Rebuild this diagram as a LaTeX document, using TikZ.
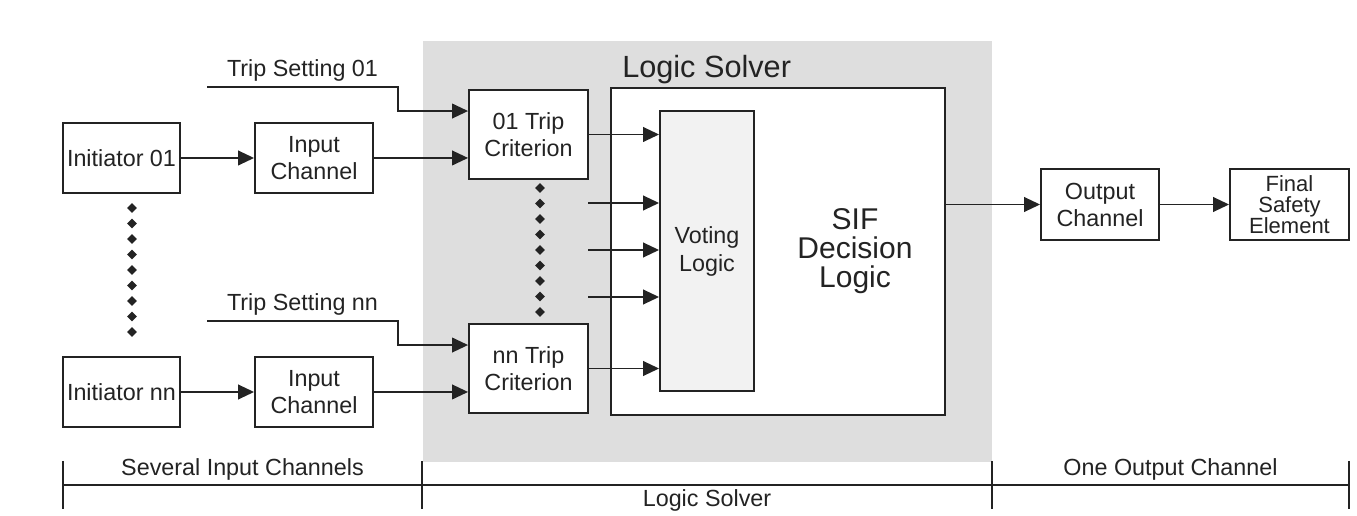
\documentclass[tikz,border=0pt]{standalone}
\usepackage{fontspec}
\setmainfont{Liberation Sans}
\usetikzlibrary{arrows.meta,shapes.geometric}
\definecolor{solvergray}{RGB}{222,222,222}
\definecolor{votegray}{RGB}{242,242,242}
\definecolor{inkgray}{RGB}{35,35,35}

\begin{document}
\begin{tikzpicture}[x=0.75pt, y=-0.75pt,
   every node/.style={text=inkgray, font=\fontsize{17.5}{20.25}\selectfont},
   blk/.style={draw=inkgray, line width=1.4pt, fill=white, align=center, inner sep=1pt},
   arr/.style={draw=inkgray, line width=1.4pt, -{Triangle[length=12pt,width=11pt]}},
   ln/.style={draw=inkgray, line width=1.4pt},
   dot/.style={diamond, fill=inkgray, inner sep=0pt, minimum size=7.5pt}]
   \useasboundingbox (0,0) rectangle (1357,516);

   % Logic solver area
   \fill[solvergray] (423,41) rectangle (992,462);
   \node[anchor=base west, inner sep=0pt, font=\fontsize{23}{27}\selectfont] (lstitle) at (622,78) {Logic Solver};
   \node[blk, minimum width=250.5pt, minimum height=245.25pt] (ls) at (778,251.5) {};
   \node[blk, fill=votegray, minimum width=70.5pt, minimum height=210pt, font=\fontsize{17.5}{21}\selectfont] (vote) at (707,251) {Voting\\Logic};
   \node[align=center, font=\fontsize{22.5}{22}\selectfont] (sif) at (855,251) {SIF\\Decision\\Logic};

   % Channel 01
   \node[blk, minimum width=87.75pt, minimum height=52.5pt] (ini1) at (121.5,158) {Initiator 01};
   \node[blk, minimum width=88.5pt, minimum height=52.5pt] (inp1) at (314,158) {Input\\Channel};
   \node[blk, minimum width=89.25pt, minimum height=66.75pt] (trip1) at (528.5,134.5) {01 Trip\\Criterion};
   \coordinate (ts1) at (207,87);
   \coordinate (tk1) at (398,87);
   \draw[arr] (ts1) -- node[above] (tslbl1) {Trip Setting 01} (tk1) |- ([yshift=17.6pt]trip1.west);
   \draw[arr] (ini1.east) -- (inp1.west);
   \draw[arr] (inp1.east) -- ([yshift=-17.6pt]trip1.west);

   % Channel nn
   \node[blk, minimum width=87.75pt, minimum height=52.5pt] (inin) at (121.5,392) {Initiator nn};
   \node[blk, minimum width=88.5pt, minimum height=52.5pt] (inpn) at (314,392) {Input\\Channel};
   \node[blk, minimum width=89.25pt, minimum height=66.75pt] (tripn) at (528.5,368.5) {nn Trip\\Criterion};
   \coordinate (tsn) at (207,321);
   \coordinate (tkn) at (398,321);
   \draw[arr] (tsn) -- node[above] (tslbln) {Trip Setting nn} (tkn) |- ([yshift=17.6pt]tripn.west);
   \draw[arr] (inin.east) -- (inpn.west);
   \draw[arr] (inpn.east) -- ([yshift=-17.6pt]tripn.west);

   % Dots between the channels
   \foreach \i in {0,...,8} {
      \node[dot] (da\i) at (132,208+15.5*\i) {};
      \node[dot] (db\i) at (540,188+15.5*\i) {};
   }

   % Inputs of the voting logic
   \draw[arr] (trip1.east) -- (trip1.east -| vote.west);
   \draw[arr] (tripn.east) -- (tripn.east -| vote.west);
   \foreach \y in {203,250,297} {
      \coordinate (v\y) at (588,\y);
      \draw[arr] (v\y) -- (v\y -| vote.west);
   }

   % Output side
   \node[blk, minimum width=88.5pt, minimum height=53.25pt] (out) at (1100,204.5) {Output\\Channel};
   \node[blk, minimum width=89.25pt, minimum height=53.25pt, font=\fontsize{16.5}{16}\selectfont] (fse) at (1289.5,204.5) {Final\\Safety\\Element};
   \draw[arr] (ls.east |- out.west) -- (out.west);
   \draw[arr] (out.east) -- (fse.west);

   % Scale at the bottom
   \coordinate (b1) at (63,485);
   \coordinate (b2) at (422,485);
   \coordinate (b3) at (992,485);
   \coordinate (b4) at (1349,485);
   \draw[ln] (b1) -- (b4);
   \foreach \p in {b1,b2,b3,b4}
      \draw[ln] ([yshift=18pt]\p) -- ([yshift=-18pt]\p);
   \path (b1) -- node[above] (lblin) {Several Input Channels} (b2);
   \path (b2) -- node[below] (lblls) {Logic Solver} (b3);
   \path (b3) -- node[above] (lblout) {One Output Channel} (b4);
\end{tikzpicture}
\end{document}
